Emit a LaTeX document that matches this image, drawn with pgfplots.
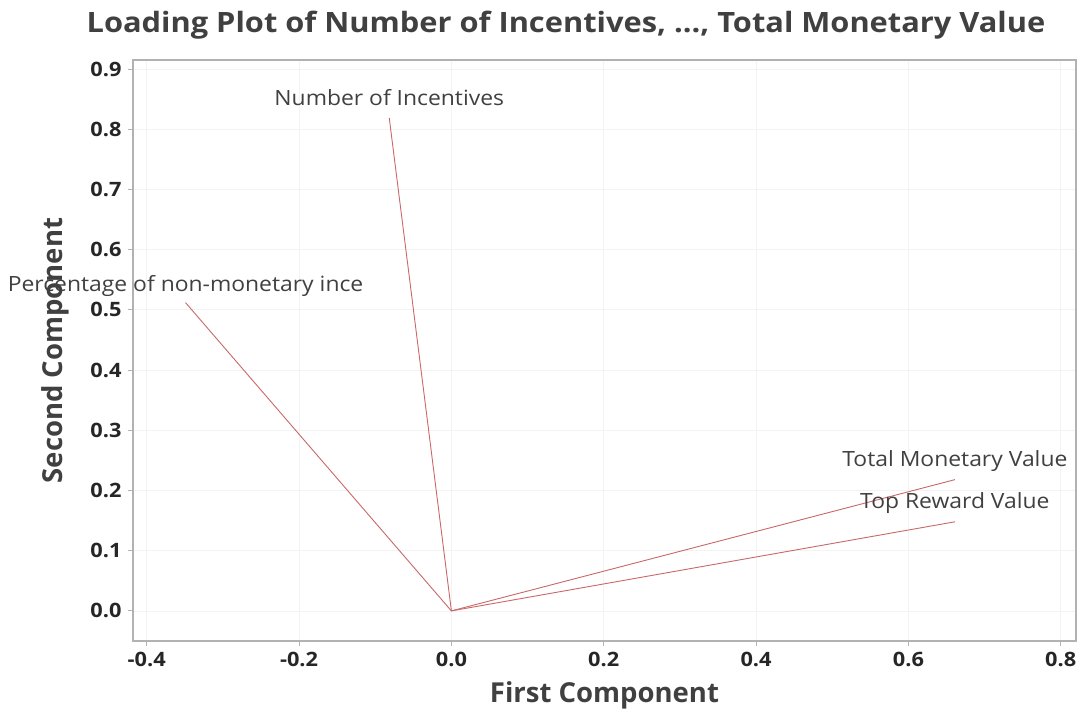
\documentclass[border=0pt]{standalone}
\usepackage{pgfplots}
\pgfplotsset{compat=1.18}
\usepackage{fontspec}
\setmainfont{Open Sans}
\newfontfamily\wideA[FakeStretch=1.09]{Open Sans}
\newfontfamily\wideB[FakeStretch=1.10]{Open Sans}
\newfontfamily\wideT[FakeStretch=1.10]{Open Sans}
\definecolor{lc}{RGB}{200,104,104}
\definecolor{tx}{RGB}{64,64,64}
\definecolor{ax}{RGB}{178,178,178}
\definecolor{gr}{RGB}{243,243,243}
\begin{document}
\begin{tikzpicture}
\useasboundingbox (-133pt,-72pt) rectangle (948pt,641pt);
\begin{axis}[
  scale only axis, width=943pt, height=581pt,
  xmin=-0.418, xmax=0.82, ymin=-0.05, ymax=0.915,
  xtick={-0.4,-0.2,0,0.2,0.4,0.6,0.8},
  ytick={0,0.1,0.2,0.3,0.4,0.5,0.6,0.7,0.8,0.9},
  /pgf/number format/assume math mode=true,
  /pgf/number format/.cd, fixed, fixed zerofill, precision=1, /pgfplots/.cd,
  tick align=outside, xtick pos=bottom, ytick pos=left,
  major tick length=5pt,
  tick style={ax, line width=1pt},
  axis line style={ax, line width=1.2pt},
  grid=major, major grid style={gr, line width=0.8pt},
  ticklabel style={font=\wideB\fontsize{19.8}{23}\selectfont\bfseries, text=black!85},
  xticklabel style={yshift=-3pt},
  yticklabel style={xshift=-3pt},
  xlabel={First Component}, ylabel={Second Component},
  label style={font=\fontsize{27.5}{30}\selectfont\bfseries, text=tx},
  xlabel style={at={(axis description cs:0.5,-0.093)}, anchor=center},
  ylabel style={at={(axis description cs:-0.0827,0.5)}, anchor=center},
  clip=false,
]
\addplot[lc, line width=0.9pt] coordinates {(0,0) (-0.0816,0.819)}
  node[pos=1, anchor=base, yshift=12pt, text=tx, font=\wideA\fontsize{21}{24}\selectfont] {Number of Incentives};
\addplot[lc, line width=0.9pt] coordinates {(0,0) (-0.349,0.512)}
  node[pos=1, anchor=base, yshift=11pt, text=tx, font=\wideA\fontsize{21}{24}\selectfont] {Percentage of non-monetary ince};
\addplot[lc, line width=0.9pt] coordinates {(0,0) (0.661,0.218)}
  node[pos=1, anchor=base, yshift=13pt, text=tx, font=\wideA\fontsize{21}{24}\selectfont] {Total Monetary Value};
\addplot[lc, line width=0.9pt] coordinates {(0,0) (0.661,0.148)}
  node[pos=1, anchor=base, yshift=13pt, text=tx, font=\wideA\fontsize{21}{24}\selectfont] {Top Reward Value};
\end{axis}
\node[anchor=base, text=tx, font=\wideT\fontsize{28}{32}\selectfont\bfseries] at (433pt,608pt) {Loading Plot of Number of Incentives, ..., Total Monetary Value};
\end{tikzpicture}
\end{document}
